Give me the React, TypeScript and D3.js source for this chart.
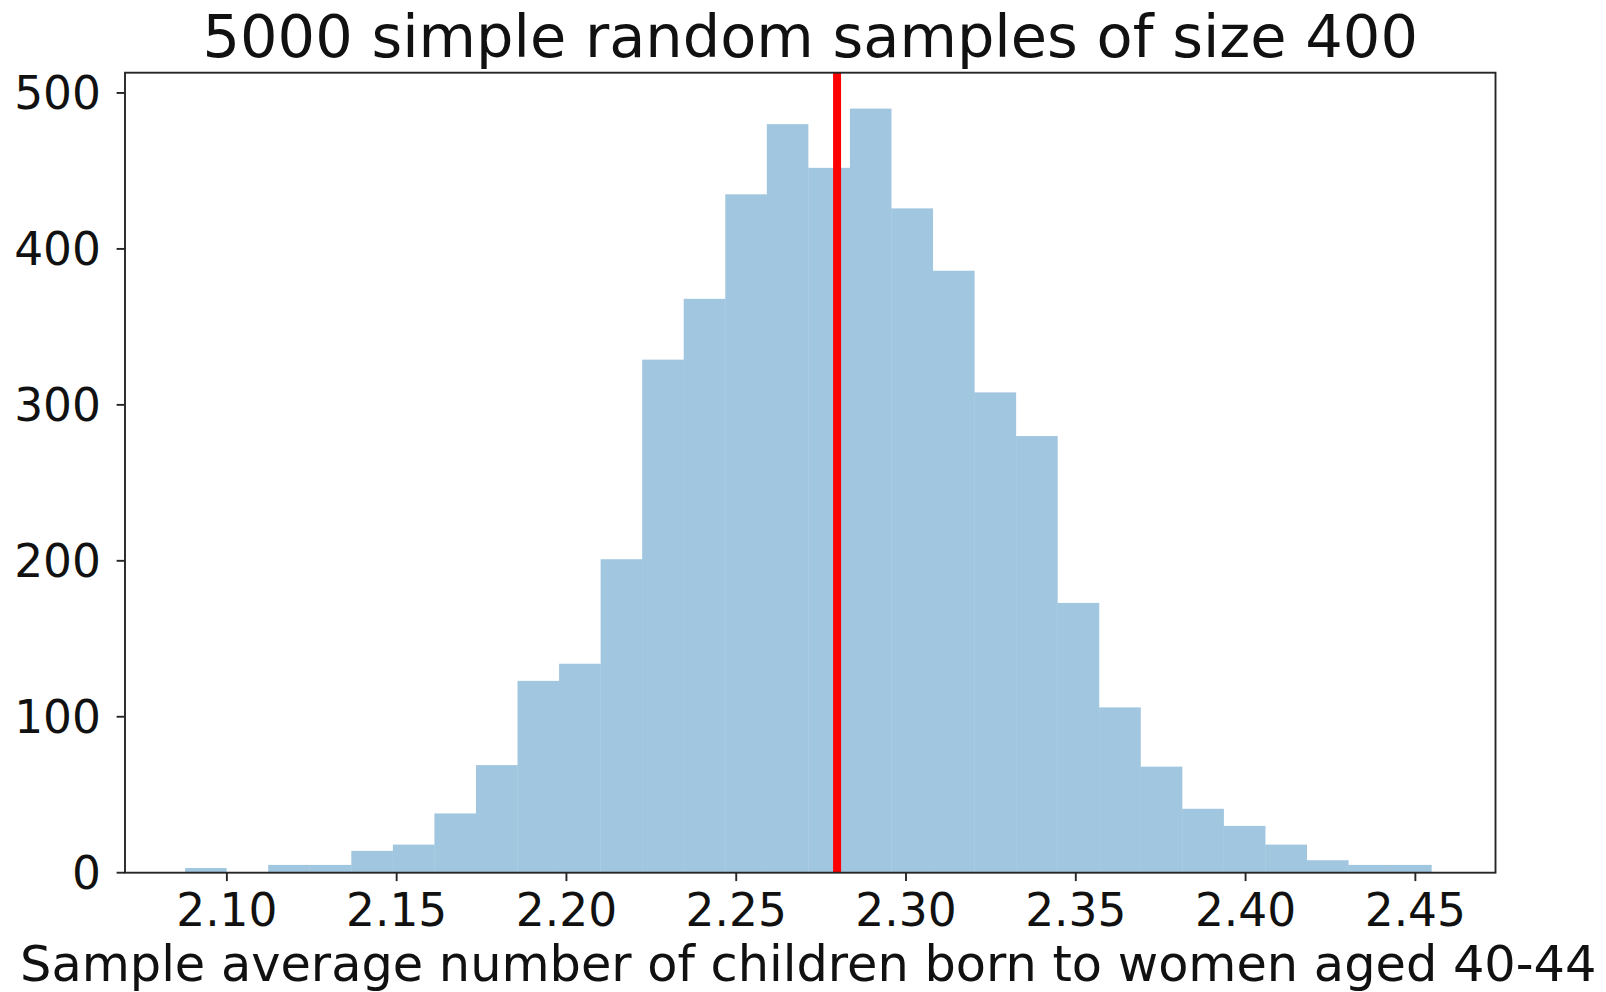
import React from "react";
import * as d3 from "d3";

// Histogram of 5000 sample means (30 equal-width bins)
const binStart = 2.0877;
const binEnd = 2.4548;
const counts = [
  3, 0, 5, 5, 14, 18, 38, 69, 123, 134,
  201, 329, 368, 435, 480, 452, 490, 426, 386, 308,
  280, 173, 106, 68, 41, 30, 18, 8, 5, 5,
];
const meanValue = 2.2797;
const xTicks = [2.1, 2.15, 2.2, 2.25, 2.3, 2.35, 2.4, 2.45];
const yTicks = [0, 100, 200, 300, 400, 500];
const xDomain = [2.07, 2.4736];
const yDomain = [0, 513];
const titleText = "5000 simple random samples of size 400";
const xLabelText = "Sample average number of children born to women aged 40-44";

const W = 1606;
const H = 992;
const plot = { left: 125, right: 1495.5, top: 72.7, bottom: 872.7 };
const font = "'DejaVu Sans', sans-serif";

export default function App() {
  const x = d3.scaleLinear().domain(xDomain).range([plot.left, plot.right]);
  const y = d3.scaleLinear().domain(yDomain).range([plot.bottom, plot.top]);
  const bw = (binEnd - binStart) / counts.length;
  const bins = counts.map((c, i) => ({
    x0: binStart + i * bw,
    x1: binStart + (i + 1) * bw,
    c,
  }));

  return (
    <svg
      width={W}
      height={H}
      style={{ position: "absolute", left: 0, top: 0, background: "#fff" }}
      fontFamily={font}
    >
      <rect x={0} y={0} width={W} height={H} fill="#fff" />
      {bins.map((b, i) =>
        b.c > 0 ? (
          <rect
            key={i}
            x={x(b.x0)}
            y={y(b.c)}
            width={x(b.x1) - x(b.x0)}
            height={y(0) - y(b.c)}
            fill="#1f77b4"
            fillOpacity={0.42}
          />
        ) : null
      )}
      <line
        x1={x(meanValue)}
        x2={x(meanValue)}
        y1={y(yDomain[1])}
        y2={y(0)}
        stroke="#ff0000"
        strokeWidth={8}
      />
      {/* spines */}
      <rect
        x={plot.left}
        y={plot.top}
        width={plot.right - plot.left}
        height={plot.bottom - plot.top}
        fill="none"
        stroke="#262626"
        strokeWidth={1.9}
      />
      {/* y ticks */}
      {yTicks.map((t) => (
        <g key={"y" + t}>
          <line
            x1={plot.left - 8.4}
            x2={plot.left}
            y1={y(t)}
            y2={y(t)}
            stroke="#262626"
            strokeWidth={1.9}
          />
          <text
            x={101}
            y={y(t)}
            dy="0.36em"
            textAnchor="end"
            fontSize={45.5}
            fill="#111"
          >
            {t}
          </text>
        </g>
      ))}
      {/* x ticks */}
      {xTicks.map((t) => (
        <g key={"x" + t}>
          <line
            x1={x(t)}
            x2={x(t)}
            y1={plot.bottom}
            y2={plot.bottom + 8.4}
            stroke="#262626"
            strokeWidth={1.9}
          />
          <text
            x={x(t)}
            y={926}
            textAnchor="middle"
            fontSize={45.5}
            fill="#111"
          >
            {t.toFixed(2)}
          </text>
        </g>
      ))}
      <text
        x={(plot.left + plot.right) / 2 - 2}
        y={981}
        textAnchor="middle"
        fontSize={49.4}
        fill="#111"
      >
        {xLabelText}
      </text>
      <text
        x={(plot.left + plot.right) / 2}
        y={56.7}
        textAnchor="middle"
        fontSize={59}
        fill="#111"
      >
        {titleText}
      </text>
    </svg>
  );
}
